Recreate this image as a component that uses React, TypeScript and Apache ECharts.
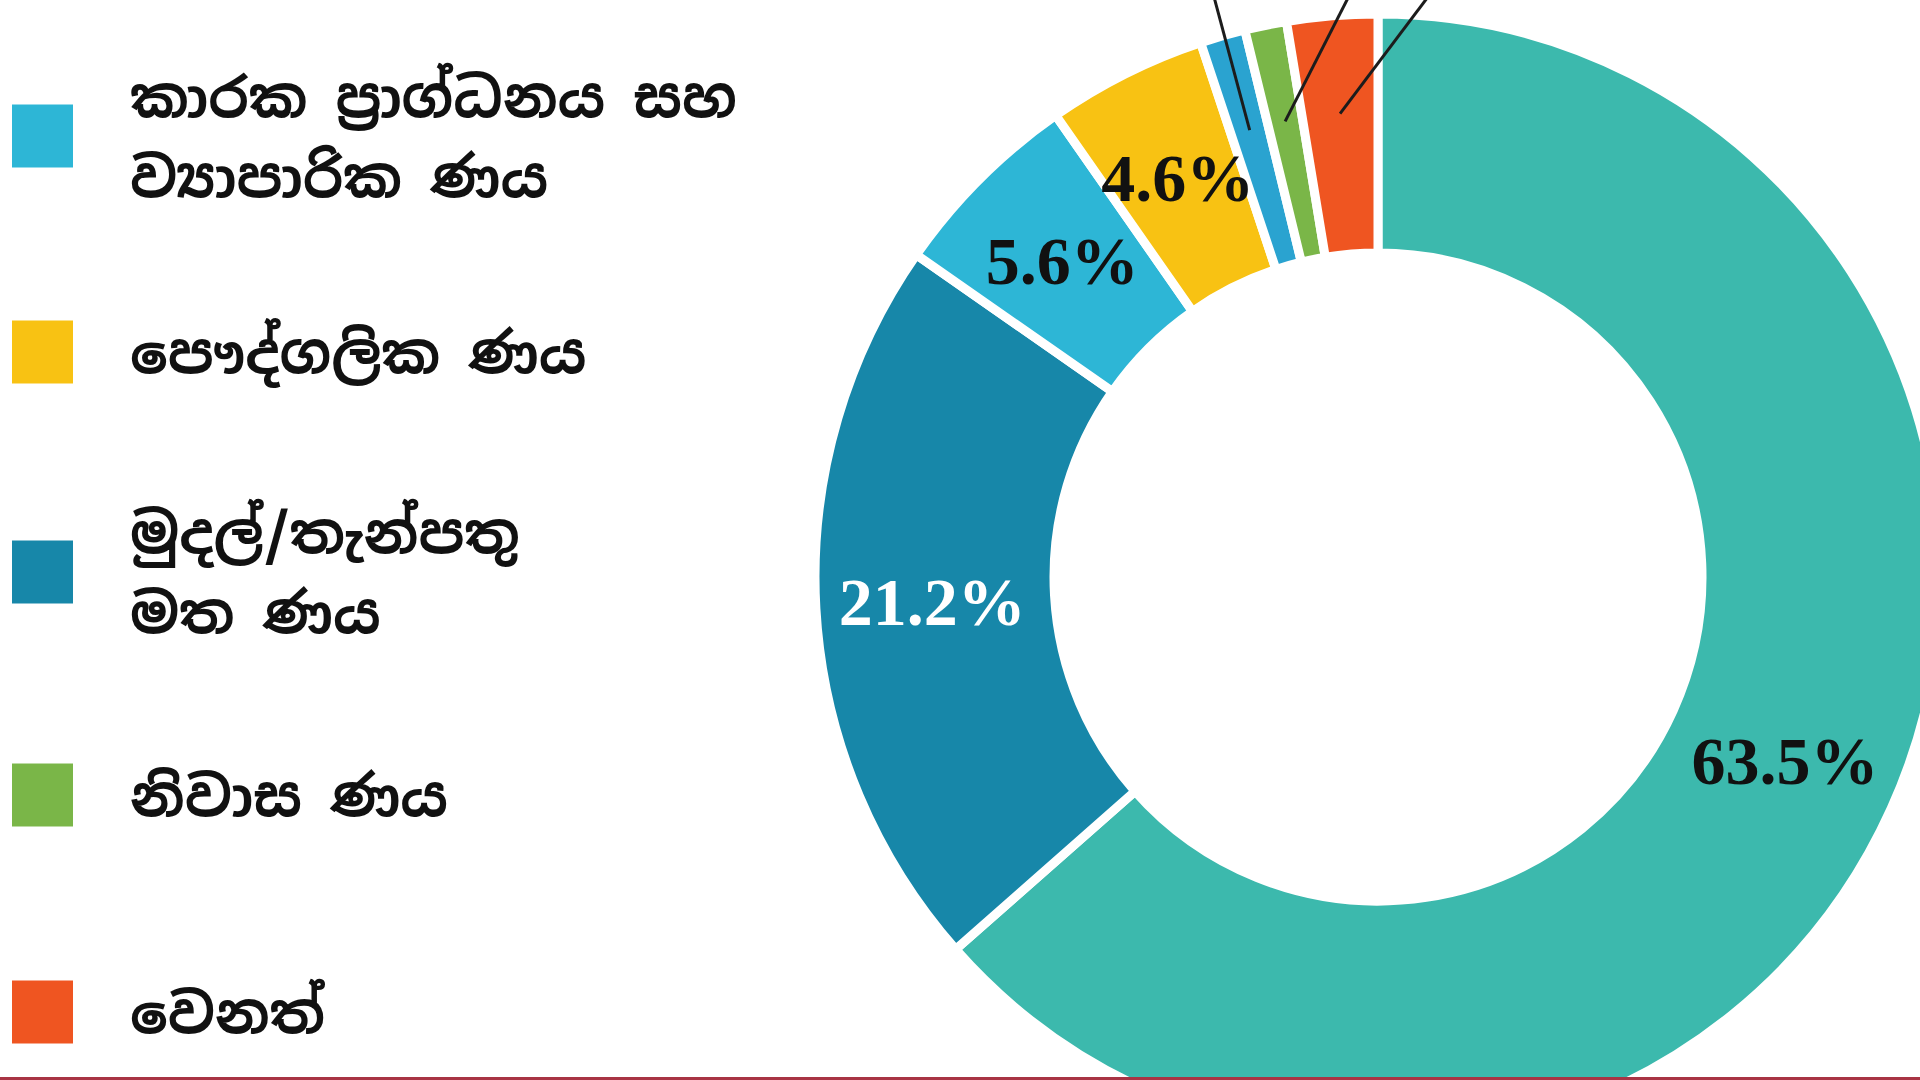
import React, { useEffect, useRef } from "react";
import * as echarts from "echarts";

// ---- data ----
// Two slices (the big teal one and the thin blue one) have their legend entries cropped off the top of the image.
const categories = [
  "(legend entry cropped – teal)",
  "මුදල්/තැන්පතු මත ණය",
  "කාරක ප්‍රාග්ධනය සහ ව්‍යාපාරික ණය",
  "පෞද්ගලික ණය",
  "(legend entry cropped – blue)",
  "නිවාස ණය",
  "වෙනත්",
];
const values = [63.5, 21.2, 5.6, 4.6, 1.3, 1.2, 2.6];
const sliceColors = ["#3cb9ad", "#1787a9", "#2db6d6", "#f8c213", "#2aa3d0", "#7ab648", "#ef5521"];
const showInsideLabel = [true, true, true, true, false, false, false];
const insideLabelColors = ["#111111", "#ffffff", "#111111", "#111111", "#111111", "#111111", "#111111"];

// visible legend entries (order as in the picture)
const legendNames = [
  "කාරක ප්‍රාග්ධනය සහ ව්‍යාපාරික ණය",
  "පෞද්ගලික ණය",
  "මුදල්/තැන්පතු මත ණය",
  "නිවාස ණය",
  "වෙනත්",
];
const legendLabels = [
  "කාරක ප්‍රාග්ධනය සහ\nව්‍යාපාරික ණය",
  "පෞද්ගලික ණය",
  "මුදල්/තැන්පතු\nමත ණය",
  "නිවාස ණය",
  "වෙනත්",
];

// ---- layout / style ----
const CX = 1378;
const CY = 577;
const R_IN = 324;
const R_OUT = 563;
const LEGEND_CENTERS = [136, 352, 572, 795, 1012];
const LEGEND_LINE_H = 80;
// leader lines of the small slices (labels are cut off above the picture)
const leaderTilt: (number | null)[] = [null, null, null, null, -15, 27, 37];
const LEADER_R = 465;
const LEADER_LEN = 200;

export default function App() {
  const ref = useRef<HTMLDivElement>(null);

  useEffect(() => {
    if (!ref.current) return;
    const chart = echarts.init(ref.current, undefined, { renderer: "svg" });

    const total = values.reduce((a, b) => a + b, 0);
    const leaderLines: any[] = [];
    let cum = 0;
    values.forEach((v, i) => {
      const mid = cum + v / 2;
      cum += v;
      const tilt = leaderTilt[i];
      if (tilt === null) return;
      const ang = ((90 - (mid / total) * 360) * Math.PI) / 180;
      const x1 = CX + LEADER_R * Math.cos(ang);
      const y1 = CY - LEADER_R * Math.sin(ang);
      const t = (tilt * Math.PI) / 180;
      leaderLines.push({
        type: "line",
        z: 10,
        silent: true,
        shape: { x1, y1, x2: x1 + LEADER_LEN * Math.sin(t), y2: y1 - LEADER_LEN * Math.cos(t) },
        style: { stroke: "#1c1c1c", lineWidth: 3 },
      });
    });

    const option: any = {
      animation: false,
      backgroundColor: "#ffffff",
      legend: legendNames.map((name, i) => {
        const lines = legendLabels[i].split("\n").length;
        const boxH = Math.max(65, lines * LEGEND_LINE_H);
        return {
          data: [name],
          orient: "vertical",
          left: 10,
          top: LEGEND_CENTERS[i] - boxH / 2,
          padding: 0,
          itemWidth: 63,
          itemHeight: 65,
          icon: "rect",
          selectedMode: false,
          formatter: () => legendLabels[i],
          textStyle: {
            fontFamily: "'Noto Sans Sinhala', 'Noto Sans', sans-serif",
            fontSize: 56,
            fontWeight: "bold",
            lineHeight: LEGEND_LINE_H,
            color: "#111111",
            padding: [0, 0, 0, 51],
          },
        };
      }),
      graphic: [
        ...leaderLines,
        {
          type: "rect",
          z: 10,
          silent: true,
          shape: { x: 0, y: 1077, width: 1920, height: 3 },
          style: { fill: "#a83444" },
        },
      ],
      series: [
        {
          type: "pie",
          center: [CX, CY],
          radius: [R_IN, R_OUT],
          startAngle: 90,
          clockwise: true,
          avoidLabelOverlap: false,
          silent: true,
          emphasis: { disabled: true },
          itemStyle: { borderColor: "#ffffff", borderWidth: 9 },
          labelLine: { show: false },
          label: {
            show: true,
            position: "inside",
            fontFamily: "'Liberation Serif', 'Times New Roman', serif",
            fontWeight: "bold",
            fontSize: 68,
            formatter: (p: any) => `${Number(p.value).toFixed(1)}%`,
          },
          data: categories.map((name, i) => ({
            name,
            value: values[i],
            itemStyle: { color: sliceColors[i] },
            label: { show: showInsideLabel[i], color: insideLabelColors[i] },
          })),
        },
      ],
    };

    chart.setOption(option);
    return () => chart.dispose();
  }, []);

  return (
    <div
      ref={ref}
      style={{ position: "fixed", left: 0, top: 0, width: 1920, height: 1080, background: "#ffffff" }}
    />
  );
}
